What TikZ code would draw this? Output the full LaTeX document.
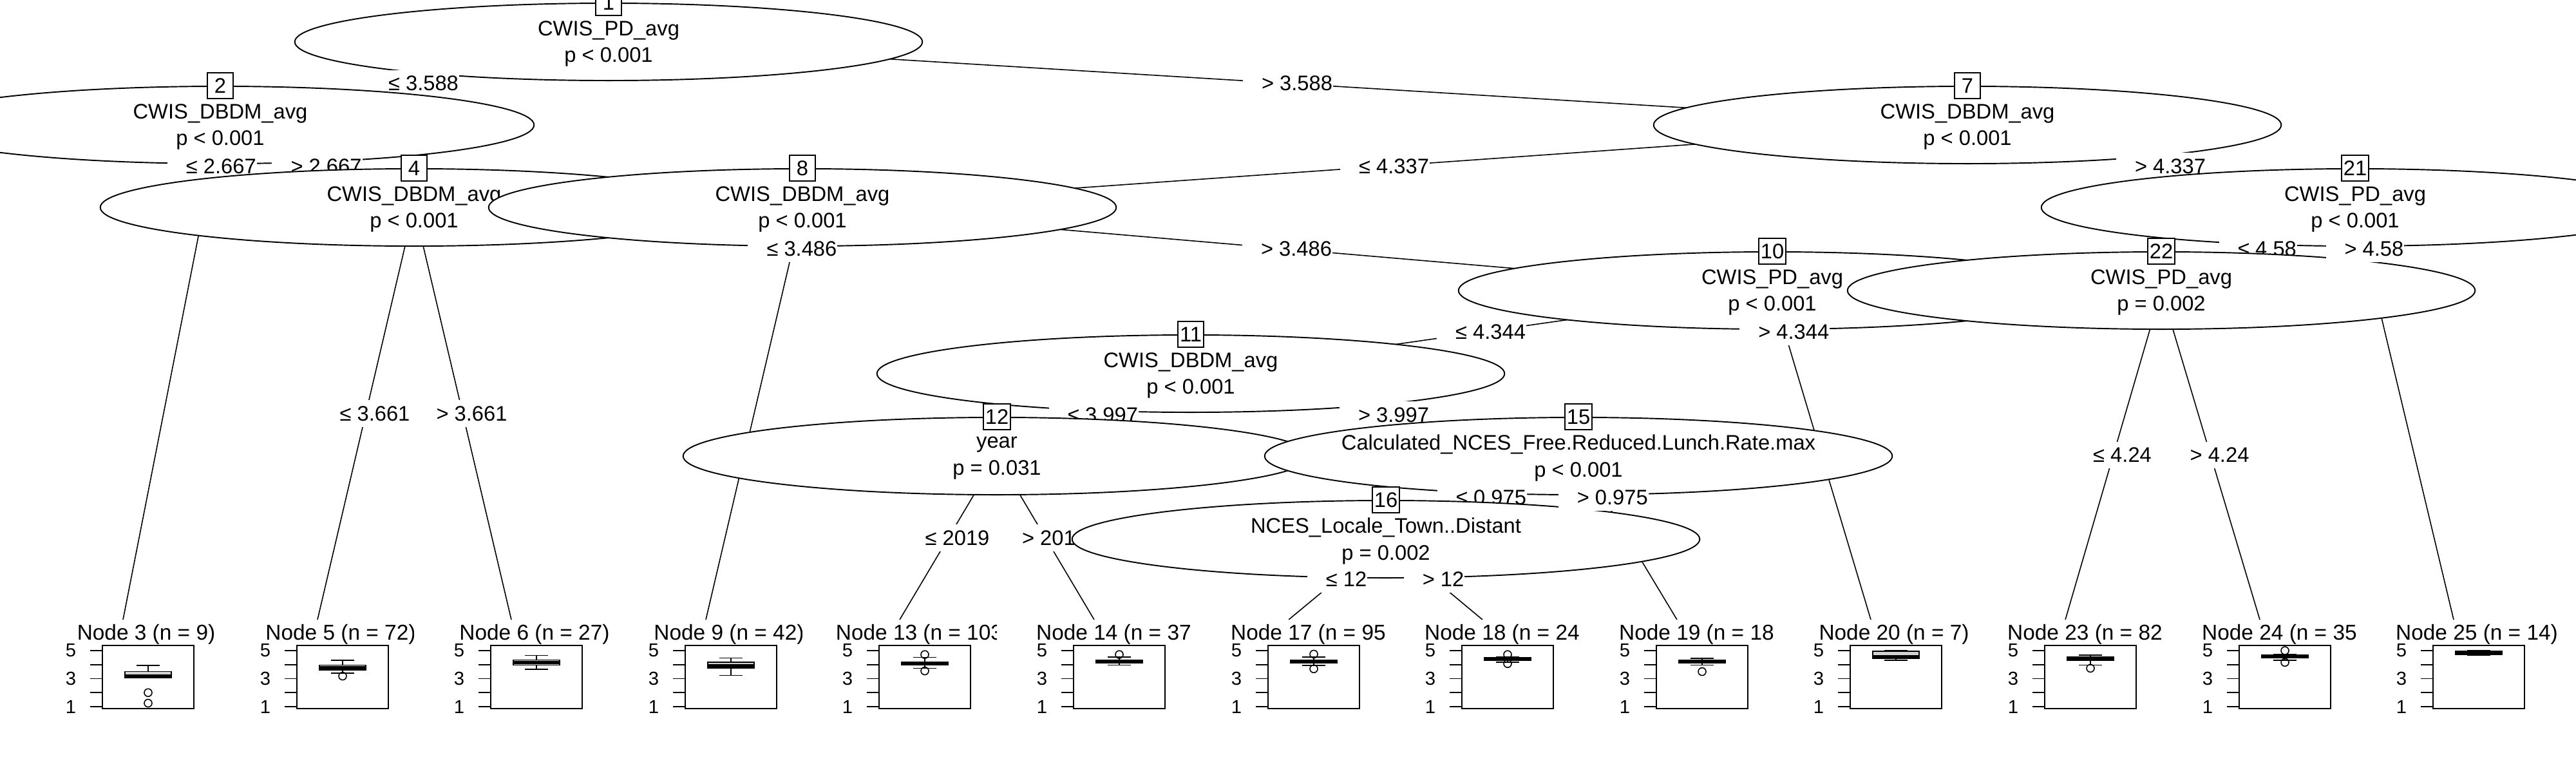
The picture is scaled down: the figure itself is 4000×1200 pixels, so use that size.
\documentclass[tikz,border=0pt]{standalone}
\usepackage{fontspec}
\setmainfont{Liberation Sans}
\usepackage{tikz}
\usetikzlibrary{shapes.geometric}
\definecolor{boxgray}{RGB}{211, 211, 211}

\begin{document}
\begin{tikzpicture}[x = 0.01cm, y = -0.01cm,
  inode/.style = {ellipse, draw, fill = white, line width = 0.55pt, minimum width = 9.74cm, minimum height = 1.2cm, inner sep = 0pt},
  itext/.style = {align = center, inner sep = 0pt, font = \fontsize{9.3}{11.9}\selectfont},
  nbox/.style = {draw, fill = white, line width = 0.55pt, minimum width = 0.4cm, minimum height = 0.4cm, inner xsep = 0.03cm, inner ysep = 0pt, font = \fontsize{9.3}{11}\selectfont},
  elab/.style = {fill = white, inner xsep = 0.01cm, inner ysep = 0pt, minimum height = 0.41cm, font = \fontsize{9.3}{11}\selectfont},
  link/.style = {line width = 0.45pt},
  ttitle/.style = {anchor = base, inner sep = 0pt, font = \fontsize{9.5}{11}\selectfont},
  axlab/.style = {inner sep = 0pt, font = \fontsize{8.3}{10}\selectfont}]
\useasboundingbox[fill = white] (0,0) rectangle (4000,1200);

% centres of the inner nodes
\coordinate (c1) at (945,65);
\coordinate (c2) at (342,194);
\coordinate (c4) at (643,322);
\coordinate (c7) at (3055,194);
\coordinate (c8) at (1246,322);
\coordinate (c10) at (2752,451);
\coordinate (c11) at (1849,580);
\coordinate (c12) at (1548,708);
\coordinate (c15) at (2451,708);
\coordinate (c16) at (2152,837);
\coordinate (c21) at (3657,322);
\coordinate (c22) at (3356,451);
% tops of the terminal panels
\foreach \tn/\tx in {3/191,5/493,6/794,9/1096,13/1397,14/1699,17/2001,18/2302,19/2604,20/2905,23/3207,24/3509,25/3810}
  \coordinate (t\tn) at (\tx,962);

% node 1
\draw[link] (c1) -- (c2);
\draw[link] (c1) -- (c7);
\node[inode] (n1) at (c1) {};
\node[itext] (x1) at ([yshift = -0.03cm]c1) {CWIS\_PD\_avg\\p < 0.001};
\node[nbox] (b1) at (n1.north) {1};
\path (c1) -- (c2) node[elab, pos = 0.5] (e2) {\hspace{0.28cm}≤ 3.588};

% node 2
\draw[link] (c2) -- (t3);
\draw[link] (c2) -- (c4);
\node[inode] (n2) at (c2) {};
\node[itext] (x2) at ([yshift = -0.03cm]c2) {CWIS\_DBDM\_avg\\p < 0.001};
\node[nbox] (b2) at (n2.north) {2};
\path (c2) -- (t3) node[elab, pos = 0.0837] (e3) {\hspace{0.28cm}≤ 2.667};
\path (c2) -- (c4) node[elab, pos = 0.5] (e4) {\hspace{0.28cm}> 2.667};

% node 4
\draw[link] (c4) -- (t5);
\draw[link] (c4) -- (t6);
\node[inode] (n4) at (c4) {};
\node[itext] (x4) at ([yshift = -0.03cm]c4) {CWIS\_DBDM\_avg\\p < 0.001};
\node[nbox] (b4) at (n4.north) {4};
\path (c4) -- (t5) node[elab, pos = 0.5] (e5) {\hspace{0.28cm}≤ 3.661};
\path (c4) -- (t6) node[elab, pos = 0.5] (e6) {\hspace{0.28cm}> 3.661};

\path (c1) -- (c7) node[elab, pos = 0.5] (e7) {\hspace{0.28cm}> 3.588};

% node 7
\draw[link] (c7) -- (c8);
\draw[link] (c7) -- (c21);
\node[inode] (n7) at (c7) {};
\node[itext] (x7) at ([yshift = -0.03cm]c7) {CWIS\_DBDM\_avg\\p < 0.001};
\node[nbox] (b7) at (n7.north) {7};
\path (c7) -- (c8) node[elab, pos = 0.5] (e8) {\hspace{0.28cm}≤ 4.337};

% node 8
\draw[link] (c8) -- (t9);
\draw[link] (c8) -- (c10);
\node[inode] (n8) at (c8) {};
\node[itext] (x8) at ([yshift = -0.03cm]c8) {CWIS\_DBDM\_avg\\p < 0.001};
\node[nbox] (b8) at (n8.north) {8};
\path (c8) -- (t9) node[elab, pos = 0.1005] (e9) {\hspace{0.28cm}≤ 3.486};
\path (c8) -- (c10) node[elab, pos = 0.5] (e10) {\hspace{0.28cm}> 3.486};

% node 10
\draw[link] (c10) -- (c11);
\draw[link] (c10) -- (t20);
\node[inode] (n10) at (c10) {};
\node[itext] (x10) at ([yshift = -0.03cm]c10) {CWIS\_PD\_avg\\p < 0.001};
\node[nbox] (b10) at (n10.north) {10};
\path (c10) -- (c11) node[elab, pos = 0.5] (e11) {\hspace{0.28cm}≤ 4.344};

% node 11
\draw[link] (c11) -- (c12);
\draw[link] (c11) -- (c15);
\node[inode] (n11) at (c11) {};
\node[itext] (x11) at ([yshift = -0.03cm]c11) {CWIS\_DBDM\_avg\\p < 0.001};
\node[nbox] (b11) at (n11.north) {11};
\path (c11) -- (c12) node[elab, pos = 0.5] (e12) {\hspace{0.28cm}≤ 3.997};

% node 12
\draw[link] (c12) -- (t13);
\draw[link] (c12) -- (t14);
\node[inode] (n12) at (c12) {};
\node[itext] (x12) at ([yshift = -0.03cm]c12) {year\\p = 0.031};
\node[nbox] (b12) at (n12.north) {12};
\path (c12) -- (t13) node[elab, pos = 0.5] (e13) {\hspace{0.28cm}≤ 2019};
\path (c12) -- (t14) node[elab, pos = 0.5] (e14) {\hspace{0.28cm}> 2019};

\path (c11) -- (c15) node[elab, pos = 0.5] (e15) {\hspace{0.28cm}> 3.997};

% node 15
\draw[link] (c15) -- (c16);
\draw[link] (c15) -- (t19);
\node[inode] (n15) at (c15) {};
\node[itext] (x15) at ([yshift = -0.03cm]c15) {Calculated\_NCES\_Free.Reduced.Lunch.Rate.max\\p < 0.001};
\node[nbox] (b15) at (n15.north) {15};
\path (c15) -- (c16) node[elab, pos = 0.5] (e16) {\hspace{0.28cm}≤ 0.975};

% node 16
\draw[link] (c16) -- (t17);
\draw[link] (c16) -- (t18);
\node[inode] (n16) at (c16) {};
\node[itext] (x16) at ([yshift = -0.03cm]c16) {NCES\_Locale\_Town..Distant\\p = 0.002};
\node[nbox] (b16) at (n16.north) {16};
\path (c16) -- (t17) node[elab, pos = 0.5] (e17) {\hspace{0.28cm}≤ 12};
\path (c16) -- (t18) node[elab, pos = 0.5] (e18) {\hspace{0.28cm}> 12};

\path (c15) -- (t19) node[elab, pos = 0.2531] (e19) {\hspace{0.28cm}> 0.975};
\path (c10) -- (t20) node[elab, pos = 0.1258] (e20) {\hspace{0.28cm}> 4.344};
\path (c7) -- (c21) node[elab, pos = 0.5] (e21) {\hspace{0.28cm}> 4.337};

% node 21
\draw[link] (c21) -- (c22);
\draw[link] (c21) -- (t25);
\node[inode] (n21) at (c21) {};
\node[itext] (x21) at ([yshift = -0.03cm]c21) {CWIS\_PD\_avg\\p < 0.001};
\node[nbox] (b21) at (n21.north) {21};
\path (c21) -- (c22) node[elab, pos = 0.5] (e22) {\hspace{0.28cm}≤ 4.58};

% node 22
\draw[link] (c22) -- (t23);
\draw[link] (c22) -- (t24);
\node[inode] (n22) at (c22) {};
\node[itext] (x22) at ([yshift = -0.03cm]c22) {CWIS\_PD\_avg\\p = 0.002};
\node[nbox] (b22) at (n22.north) {22};
\path (c22) -- (t23) node[elab, pos = 0.5] (e23) {\hspace{0.28cm}≤ 4.24};
\path (c22) -- (t24) node[elab, pos = 0.5] (e24) {\hspace{0.28cm}> 4.24};

\path (c21) -- (t25) node[elab, pos = 0.1005] (e25) {\hspace{0.28cm}> 4.58};

% terminal panels: boxplots on a 1--5 scale
\foreach \tn/\tx/\nn/\lw/\qa/\md/\qb/\uw in {3/191/9/3.08/3.08/3.17/3.50/3.93, 5/493/72/3.39/3.62/3.78/3.96/4.31, 6/794/27/3.67/3.96/4.16/4.34/4.65, 9/1096/42/3.24/3.75/3.93/4.17/4.47, 13/1397/103/3.74/3.96/4.08/4.20/4.51, 14/1699/37/3.96/4.13/4.24/4.34/4.54, 17/2001/95/3.94/4.13/4.24/4.34/4.54, 18/2302/24/4.18/4.28/4.39/4.49/4.56, 19/2604/18/3.96/4.13/4.24/4.34/4.44, 20/2905/7/4.31/4.42/4.55/4.95/5.00, 23/3207/82/3.96/4.28/4.42/4.54/4.68, 24/3509/35/4.31/4.47/4.57/4.70/4.75, 25/3810/14/4.66/4.72/4.85/4.95/5.00}
{
\pgfmathsetmacro\bx{\tx + 39}
\fill[white] (\tx - 151,962) rectangle (\tx + 151,1130);
\node[ttitle] (h\tn) at (\bx - 3,993) {Node \tn\ (n = \nn)};
\draw[line width = 0.55pt] (\tx - 32,1002) rectangle (\tx + 110,1100);
\foreach \v in {1,...,5}
  \draw[line width = 0.55pt] (\tx - 51,{1097 - 21.75*(\v - 1)}) -- (\tx - 32,{1097 - 21.75*(\v - 1)});
\foreach \v in {1,3,5}
  \node[axlab] (a\tn-\v) at (\tx - 81,{1097 - 21.75*(\v - 1)}) {\v};
\draw[line width = 0.45pt] (\bx,{1097 - 21.75*(\lw - 1)}) -- (\bx,{1097 - 21.75*(\qa - 1)});
\draw[line width = 0.45pt] (\bx,{1097 - 21.75*(\qb - 1)}) -- (\bx,{1097 - 21.75*(\uw - 1)});
\draw[line width = 0.45pt] (\bx - 18,{1097 - 21.75*(\lw - 1)}) -- (\bx + 18,{1097 - 21.75*(\lw - 1)});
\draw[line width = 0.45pt] (\bx - 18,{1097 - 21.75*(\uw - 1)}) -- (\bx + 18,{1097 - 21.75*(\uw - 1)});
\filldraw[fill = boxgray, line width = 0.45pt] (\bx - 36,{1097 - 21.75*(\qa - 1)}) rectangle (\bx + 36,{1097 - 21.75*(\qb - 1)});
\draw[line width = 1.5pt] (\bx - 36,{1097 - 21.75*(\md - 1)}) -- (\bx + 36,{1097 - 21.75*(\md - 1)});
}
% outliers
\foreach \tx/\v in {191/2.0, 191/1.25, 493/3.18, 1397/4.72, 1397/3.55, 1699/4.72, 2001/4.75, 2001/3.7, 2302/4.72, 2302/4.07, 2604/3.5, 3207/3.74, 3509/5.0, 3509/4.16}
  \draw[line width = 0.45pt] (\tx + 39,{1097 - 21.75*(\v - 1)}) circle [radius = 6];
\end{tikzpicture}
\end{document}
